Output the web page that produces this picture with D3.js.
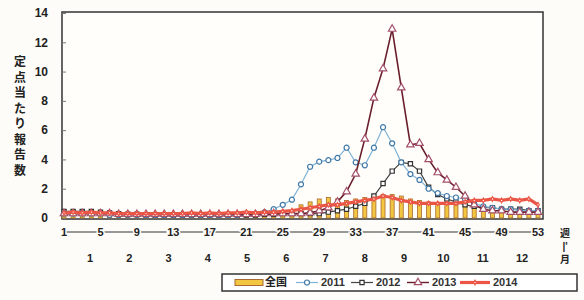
<!DOCTYPE html>
<html><head><meta charset="utf-8">
<script src="https://cdn.jsdelivr.net/npm/d3@7"></script>
<style>
body{margin:0;background:#fdfcf8;}
svg{display:block;font-family:"Liberation Sans",Arial,sans-serif;}
</style></head>
<body><svg id="c" width="584" height="300"></svg>
<script>
const weeks = d3.range(1, 54);
const weekTicks = [1,5,9,13,17,21,25,29,33,37,41,45,49,53];
const monthLabels = ["1","2","3","4","5","6","7","8","9","10","11","12"];
const yTicks = [0,2,4,6,8,10,12,14];
const seriesNames = ["全国","2011","2012","2013","2014"];

const national = [0.2,0.2,0.2,0.2,0.2,0.2,0.2,0.2,0.2,0.2,0.2,0.2,0.2,0.2,0.2,0.2,0.2,0.2,0.2,0.2,
  0.3,0.3,0.35,0.4,0.45,0.5,0.9,1.1,1.3,1.4,1.3,1.2,1.3,1.4,1.5,1.6,1.6,1.5,1.3,1.2,1.1,1.0,1.0,0.9,0.9,0.8,0.8,0.7,0.7,0.7,0.6,0.6,0.5];
const s2011 = [0.3,0.3,0.3,0.3,0.3,0.2,0.2,0.2,0.2,0.2,0.2,0.2,0.2,0.2,0.2,0.2,0.2,0.2,0.2,0.2,
  0.3,0.3,0.4,0.6,0.9,1.25,2.3,3.5,3.85,3.95,4.1,4.8,3.8,3.6,4.8,6.2,5.1,3.8,3.0,2.6,2.0,1.7,1.5,1.4,1.3,1.0,0.8,0.7,0.6,0.6,0.5,0.5,0.5];
const s2012 = [0.45,0.45,0.45,0.45,0.4,0.35,0.3,0.25,0.25,0.2,0.2,0.2,0.2,0.2,0.2,0.2,0.2,0.2,0.2,0.2,
  0.2,0.2,0.25,0.25,0.3,0.3,0.3,0.3,0.3,0.4,0.5,0.6,0.8,1.0,1.5,2.35,3.2,3.8,3.7,3.2,2.1,1.6,1.3,1.1,0.9,0.8,0.7,0.7,0.6,0.6,0.6,0.5,0.5];
const s2013 = [0.3,0.3,0.3,0.3,0.3,0.3,0.25,0.25,0.25,0.25,0.25,0.25,0.25,0.25,0.25,0.25,0.25,0.25,0.25,0.25,
  0.25,0.25,0.3,0.3,0.3,0.3,0.3,0.35,0.5,0.7,1.1,1.8,3.0,5.4,8.2,10.2,12.9,8.9,5.0,5.1,4.0,3.1,2.6,2.1,1.5,0.9,0.6,0.5,0.5,0.4,0.4,0.4,0.4];
const s2014 = [0.35,0.4,0.35,0.4,0.35,0.35,0.3,0.3,0.3,0.3,0.3,0.3,0.3,0.3,0.35,0.3,0.35,0.3,0.35,0.35,
  0.4,0.35,0.4,0.4,0.45,0.5,0.6,0.7,0.8,0.9,0.9,1.0,1.1,1.2,1.3,1.5,1.4,1.2,1.1,1.0,1.0,1.0,1.0,1.0,1.1,1.2,1.2,1.3,1.2,1.3,1.2,1.3,0.9];

const svg = d3.select("#c");
const X0 = 62, X1 = 543, Ytop = 12, Ybot = 219;
const x = d3.scaleLinear().domain([1,53]).range([64,538]);
const y = d3.scaleLinear().domain([0,14]).range([218,13]);
const xm = d3.scalePoint().domain(monthLabels).range([90,522]);

// frame
svg.append("rect").attr("x",X0).attr("y",Ytop).attr("width",X1-X0).attr("height",Ybot-Ytop)
  .attr("fill","#fffefb").attr("stroke","#333").attr("stroke-width",1.5);

// y axis ticks (inside) and labels
const yAxis = d3.axisRight(y).tickValues(yTicks).tickSize(4).tickFormat("");
svg.append("g").attr("transform",`translate(${X0},0)`).call(yAxis)
  .call(g=>{g.select(".domain").remove();g.selectAll("line").attr("stroke","#777");});
svg.append("g").selectAll("text").data(yTicks).join("text")
  .attr("x",48).attr("y",d=>y(d)).attr("dy","0.36em").attr("text-anchor","end")
  .attr("font-size",12).attr("font-weight","bold").attr("fill","#222").text(d=>d);

// y title
const title = "定点当たり報告数";
svg.append("g").selectAll("text").data(Array.from(title)).join("text")
  .attr("x",20).attr("y",(d,i)=>62+i*15.5).attr("dy","0.36em").attr("text-anchor","middle")
  .attr("font-family","'Noto Sans CJK JP',sans-serif").attr("font-size",12).attr("font-weight","bold")
  .attr("fill","#222").text(d=>d);

// national bars
const bw = 4;
svg.append("g").selectAll("rect").data(weeks).join("rect")
  .attr("x",w=>x(w)-bw/2).attr("y",(w,i)=>y(national[i]))
  .attr("width",bw).attr("height",(w,i)=>y(0)-y(national[i]))
  .attr("fill","#f2c640").attr("stroke","#a86a30").attr("stroke-width",0.8);

const line = d3.line().x((d,i)=>x(weeks[i])).y(d=>y(d));

function drawSeries(data,color,width,marker,mStroke,mSize){
  const g = svg.append("g");
  g.append("path").datum(data).attr("d",line).attr("fill","none")
    .attr("stroke",color).attr("stroke-width",width);
  const sym = d3.symbol().type(marker).size(mSize);
  g.selectAll("path.m").data(data).join("path").attr("class","m")
    .attr("transform",(d,i)=>`translate(${x(weeks[i])},${y(d)})`)
    .attr("d",sym).attr("fill","#fff").attr("stroke",mStroke).attr("stroke-width",1.2);
}
drawSeries(s2012,"#444",1.2,d3.symbolSquare,"#333",18);
drawSeries(s2011,"#7fb3d6",1.2,d3.symbolCircle,"#3f78a8",20);
drawSeries(s2013,"#6a1e2c",1.6,d3.symbolTriangle,"#a3506a",24);
drawSeries(s2014,"#eb5545",3.2,d3.symbolDiamond,"#eb5545",6);

// x labels: weeks with connecting dashes
svg.append("line").attr("x1",x(1)).attr("x2",x(53)).attr("y1",232).attr("y2",232)
  .attr("stroke","#333").attr("stroke-width",1.2);
svg.append("g").selectAll("text").data(weekTicks).join("text")
  .attr("x",d=>x(d)).attr("y",232).attr("dy","0.36em").attr("text-anchor","middle")
  .attr("font-size",11).attr("font-weight","bold").attr("fill","#222")
  .attr("stroke","#fdfcf8").attr("stroke-width",3).attr("paint-order","stroke").text(d=>d);
svg.append("g").selectAll("text").data(monthLabels).join("text")
  .attr("x",d=>xm(d)).attr("y",258).attr("dy","0.36em").attr("text-anchor","middle")
  .attr("font-size",11).attr("font-weight","bold").attr("fill","#222").text(d=>d);
svg.append("text").attr("x",565).attr("y",233).attr("dy","0.36em").attr("text-anchor","middle")
  .attr("font-family","'Noto Sans CJK JP',sans-serif").attr("font-size",10).attr("font-weight","bold").attr("fill","#222").text("週");
svg.append("text").attr("x",565).attr("y",246).attr("dy","0.36em").attr("text-anchor","middle")
  .attr("font-size",10).attr("font-weight","bold").attr("fill","#222").text("|'");
svg.append("text").attr("x",565).attr("y",259).attr("dy","0.36em").attr("text-anchor","middle")
  .attr("font-family","'Noto Sans CJK JP',sans-serif").attr("font-size",10).attr("font-weight","bold").attr("fill","#222").text("月");

// legend
const lg = svg.append("g");
lg.append("rect").attr("x",222).attr("y",274).attr("width",355).attr("height",17)
  .attr("fill","#fff").attr("stroke","#333").attr("stroke-width",1.5);
const ly = 282.5;
lg.append("rect").attr("x",235).attr("y",ly-3).attr("width",28).attr("height",6)
  .attr("fill","#f2c640").attr("stroke","#a86a30").attr("stroke-width",1);
const legItems = [
  {name:seriesNames[1],x0:296,color:"#7fb3d6",w:1.2,sym:d3.symbolCircle,ms:"#3f78a8",sz:20},
  {name:seriesNames[2],x0:351,color:"#444",w:1.2,sym:d3.symbolSquare,ms:"#333",sz:18},
  {name:seriesNames[3],x0:407,color:"#6a1e2c",w:1.4,sym:d3.symbolTriangle,ms:"#a3506a",sz:24},
  {name:seriesNames[4],x0:460,color:"#eb5545",w:3.2,sym:d3.symbolDiamond,ms:"#eb5545",sz:6}
];
legItems.forEach(it=>{
  const len = it.name==="2014"?30:22;
  lg.append("line").attr("x1",it.x0).attr("x2",it.x0+len).attr("y1",ly).attr("y2",ly)
    .attr("stroke",it.color).attr("stroke-width",it.w);
  lg.append("path").attr("transform",`translate(${it.x0+len/2},${ly})`)
    .attr("d",d3.symbol().type(it.sym).size(it.sz)).attr("fill","#fff").attr("stroke",it.ms).attr("stroke-width",1.2);
  lg.append("text").attr("x",it.x0+len+3).attr("y",ly).attr("dy","0.36em")
    .attr("font-size",11).attr("font-weight","bold").attr("fill","#333").text(it.name);
});
lg.append("text").attr("x",265).attr("y",ly).attr("dy","0.36em")
  .attr("font-family","'Noto Sans CJK JP',sans-serif").attr("font-size",11).attr("font-weight","bold").attr("fill","#222").text(seriesNames[0]);
</script></body></html>
